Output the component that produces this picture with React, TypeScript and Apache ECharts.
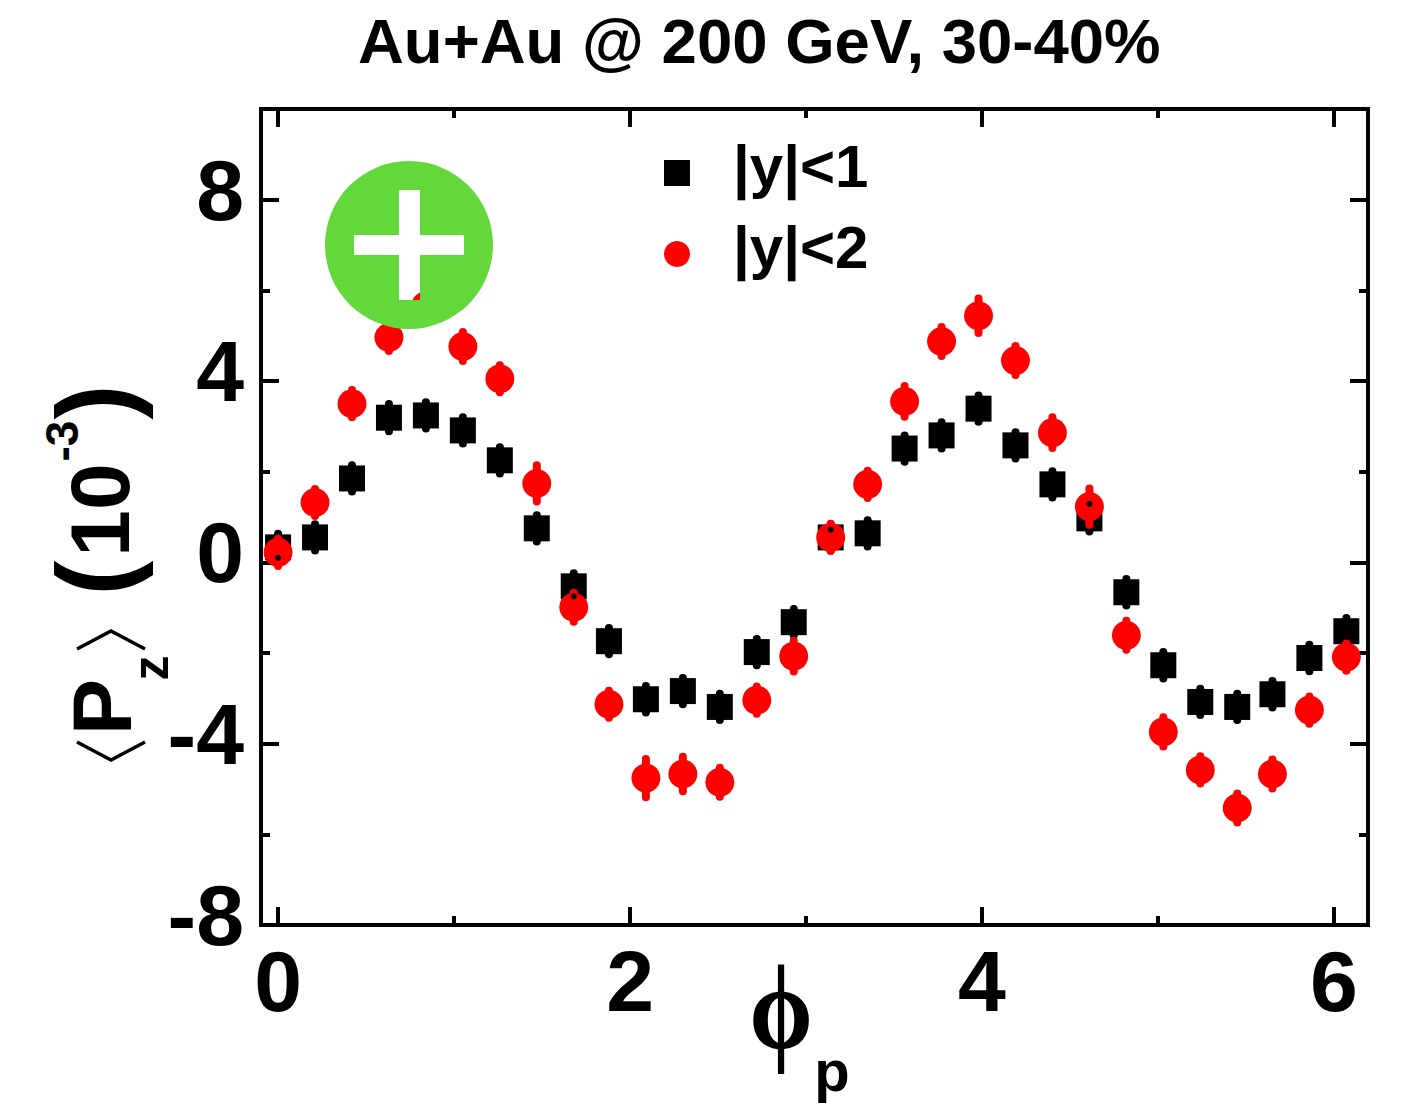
import React, { useEffect, useRef } from "react";
import * as echarts from "echarts";

const titleText = "Au+Au @ 200 GeV, 30-40%";
const seriesNames = ["|y|<1", "|y|<2"];
const phi = [0, 0.21, 0.42, 0.63, 0.84, 1.05, 1.26, 1.47, 1.68, 1.88, 2.09, 2.3, 2.51, 2.72, 2.93, 3.14, 3.35, 3.56, 3.77, 3.98, 4.19, 4.4, 4.61, 4.82, 5.03, 5.24, 5.45, 5.65, 5.86, 6.07];
const blackValues = [0.33, 0.55, 1.85, 3.19, 3.24, 2.91, 2.25, 0.75, -0.53, -1.74, -3.02, -2.84, -3.19, -1.98, -1.32, 0.55, 0.64, 2.51, 2.8, 3.39, 2.58, 1.72, 0.97, -0.66, -2.27, -3.08, -3.19, -2.91, -2.11, -1.52];
const redValues = [0.22, 1.32, 3.5, 4.96, 5.66, 4.76, 4.05, 1.74, -0.99, -3.13, -4.76, -4.67, -4.85, -3.04, -2.07, 0.55, 1.72, 3.55, 4.87, 5.44, 4.45, 2.86, 1.23, -1.61, -3.74, -4.58, -5.42, -4.67, -3.26, -2.09];
const blackErrors = [0.3, 0.29, 0.29, 0.3, 0.29, 0.29, 0.29, 0.29, 0.29, 0.29, 0.29, 0.29, 0.29, 0.29, 0.29, 0.29, 0.29, 0.29, 0.29, 0.29, 0.29, 0.29, 0.29, 0.29, 0.29, 0.29, 0.29, 0.29, 0.29, 0.29];
const redErrors = [0.3, 0.3, 0.3, 0.3, 0.34, 0.32, 0.3, 0.4, 0.32, 0.3, 0.42, 0.38, 0.32, 0.3, 0.34, 0.3, 0.3, 0.34, 0.32, 0.38, 0.32, 0.34, 0.4, 0.32, 0.32, 0.3, 0.32, 0.32, 0.3, 0.3];
const overlapPhi = [0, 1.68, 3.14, 4.61];
const overlapValues = [0.1, -0.75, 0.72, 1.29];
const xMajor = [0, 2, 4, 6];
const xMinor = [1, 3, 5];
const yMajor = [-8, -4, 0, 4, 8];
const yMinor = [-6, -2, 2, 6];

const FONT = "Liberation Sans";

echarts.graphic.registerShape(
  "badge",
  echarts.graphic.extendPath(
    "M409 161A84 84 0 0 1 409 329A84 84 0 0 1 409 161Z" +
      "M399 190L399 235L354 235L354 255L399 255L399 300L420 300L420 255L464 255L464 235L420 235L420 190Z",
    {}
  )
);

const errorRender = (color: string, width: number) => (_: any, api: any) => {
  const x = api.value(0);
  const y = api.value(1);
  const e = api.value(2);
  const a = api.coord([x, y + e]);
  const b = api.coord([x, y - e]);
  return {
    type: "line",
    shape: { x1: a[0], y1: a[1], x2: b[0], y2: b[1] },
    style: { stroke: color, lineWidth: width, lineCap: "round" },
  };
};

const vText = (text: string, x: number, y: number, fontSize: number, extra: any = {}) => ({
  type: "text",
  x,
  y,
  rotation: Math.PI / 2,
  z: 50,
  style: {
    text,
    fontFamily: FONT,
    fontWeight: "bold",
    fontSize,
    fill: "#000",
    align: "center",
    verticalAlign: "middle",
  },
  ...extra,
});

export default function App() {
  const ref = useRef<HTMLDivElement>(null);
  useEffect(() => {
    const chart = echarts.init(ref.current!, null, { renderer: "svg" });
    const xBase = {
      type: "value",
      min: -0.097,
      max: 6.193,
      axisLine: { show: false, onZero: false },
      splitLine: { show: false },
      minorTick: { show: false },
    };
    const yBase = {
      type: "value",
      min: -8,
      max: 10,
      axisLine: { show: false, onZero: false },
      splitLine: { show: false },
      minorTick: { show: false },
    };
    const tick = (values: number[], length: number) => ({
      show: true,
      inside: true,
      length,
      customValues: values,
      lineStyle: { color: "#000", width: 4 },
    });
    const labelStyle = {
      color: "#000",
      fontFamily: FONT,
      fontWeight: "bold",
      fontSize: 86,
      showMinLabel: true,
      showMaxLabel: true,
    };
    chart.setOption({
      animation: false,
      backgroundColor: "#fff",
      title: {
        text: titleText,
        left: 358,
        top: 9,
        padding: 0,
        textStyle: { color: "#000", fontFamily: FONT, fontWeight: "bold", fontSize: 63.5 },
      },
      grid: {
        left: 261,
        top: 109,
        width: 1107,
        height: 816,
        show: true,
        borderColor: "#000",
        borderWidth: 4,
        backgroundColor: "transparent",
        containLabel: false,
      },
      legend: {
        data: seriesNames,
        orient: "vertical",
        left: 664,
        top: 136,
        itemWidth: 26,
        itemHeight: 26,
        itemGap: 21,
        padding: 0,
        selectedMode: false,
        formatter: "{t|{name}}",
        textStyle: {
          rich: { t: { color: "#000", fontFamily: FONT, fontWeight: "bold", fontSize: 60, padding: [0, 0, 14, 38] } },
        },
      },
      xAxis: [
        { ...xBase, position: "bottom", axisTick: tick(xMajor, 18), axisLabel: { ...labelStyle, customValues: xMajor, margin: 13 } },
        { ...xBase, position: "bottom", axisTick: tick(xMinor, 9), axisLabel: { show: false } },
        { ...xBase, position: "top", axisTick: tick(xMajor, 18), axisLabel: { show: false } },
        { ...xBase, position: "top", axisTick: tick(xMinor, 9), axisLabel: { show: false } },
      ],
      yAxis: [
        {
          ...yBase,
          position: "left",
          axisTick: tick(yMajor, 18),
          axisLabel: {
            customValues: yMajor,
            margin: 17,
            showMinLabel: true,
            showMaxLabel: true,
            formatter: (v: number) => `{t|${v}}`,
            rich: { t: { color: "#000", fontFamily: FONT, fontWeight: "bold", fontSize: 86, padding: [0, 0, 20, 0] } },
          },
        },
        { ...yBase, position: "left", axisTick: tick(yMinor, 9), axisLabel: { show: false } },
        { ...yBase, position: "right", axisTick: tick(yMajor, 18), axisLabel: { show: false } },
        { ...yBase, position: "right", axisTick: tick(yMinor, 9), axisLabel: { show: false } },
      ],
      series: [
        {
          name: "errors1",
          type: "custom",
          renderItem: errorRender("#000", 8),
          encode: { x: 0, y: 1 },
          data: phi.map((x, i) => [x, blackValues[i], blackErrors[i]]),
          z: 2,
          silent: true,
        },
        {
          name: seriesNames[0],
          type: "scatter",
          symbol: "rect",
          symbolSize: 26,
          itemStyle: { color: "#000", opacity: 1 },
          data: phi.map((x, i) => [x, blackValues[i]]),
          z: 3,
        },
        {
          name: "errors2",
          type: "custom",
          renderItem: errorRender("#ff0000", 8),
          encode: { x: 0, y: 1 },
          data: phi.map((x, i) => [x, redValues[i], redErrors[i]]),
          z: 4,
          silent: true,
        },
        {
          name: seriesNames[1],
          type: "scatter",
          symbol: "circle",
          symbolSize: 29,
          itemStyle: { color: "#ff0000", opacity: 1 },
          data: phi.map((x, i) => [x, redValues[i]]),
          z: 5,
        },
        {
          name: "overlap",
          type: "scatter",
          symbol: "circle",
          symbolSize: 6,
          itemStyle: { color: "#000", opacity: 1 },
          data: overlapPhi.map((x, i) => [x, overlapValues[i]]),
          z: 6,
        },
      ],
      graphic: [
        { type: "badge", x: 0, y: 0, z: 100, style: { fill: "#63d83a" } },
        vText("P", 102, 707, 84),
        vText("z", 151, 668, 50),
        vText("10", 100, 510, 84),
        vText("-3", 62, 441, 46),
        vText("(", 94, 578, 105),
        vText(")", 94, 402, 105),
        { type: "polyline", z: 50, shape: { points: [[77, 742], [111, 760], [145, 742]] }, style: { stroke: "#000", lineWidth: 3.5, fill: "none" } },
        { type: "polyline", z: 50, shape: { points: [[77, 649], [111, 631], [145, 649]] }, style: { stroke: "#000", lineWidth: 3.5, fill: "none" } },
        {
          type: "text",
          x: 781,
          y: 1008,
          scaleX: 0.85,
          z: 50,
          style: { text: "ϕ", fontFamily: "Liberation Serif", fontWeight: "bold", fontSize: 120, fill: "#000", align: "center", verticalAlign: "middle" },
        },
        {
          type: "text",
          x: 832,
          y: 1070,
          z: 50,
          style: { text: "p", fontFamily: FONT, fontWeight: "bold", fontSize: 58, fill: "#000", align: "center", verticalAlign: "middle" },
        },
      ],
    });
    return () => chart.dispose();
  }, []);
  return <div ref={ref} style={{ position: "absolute", left: 0, top: 0, width: 1408, height: 1103 }} />;
}
